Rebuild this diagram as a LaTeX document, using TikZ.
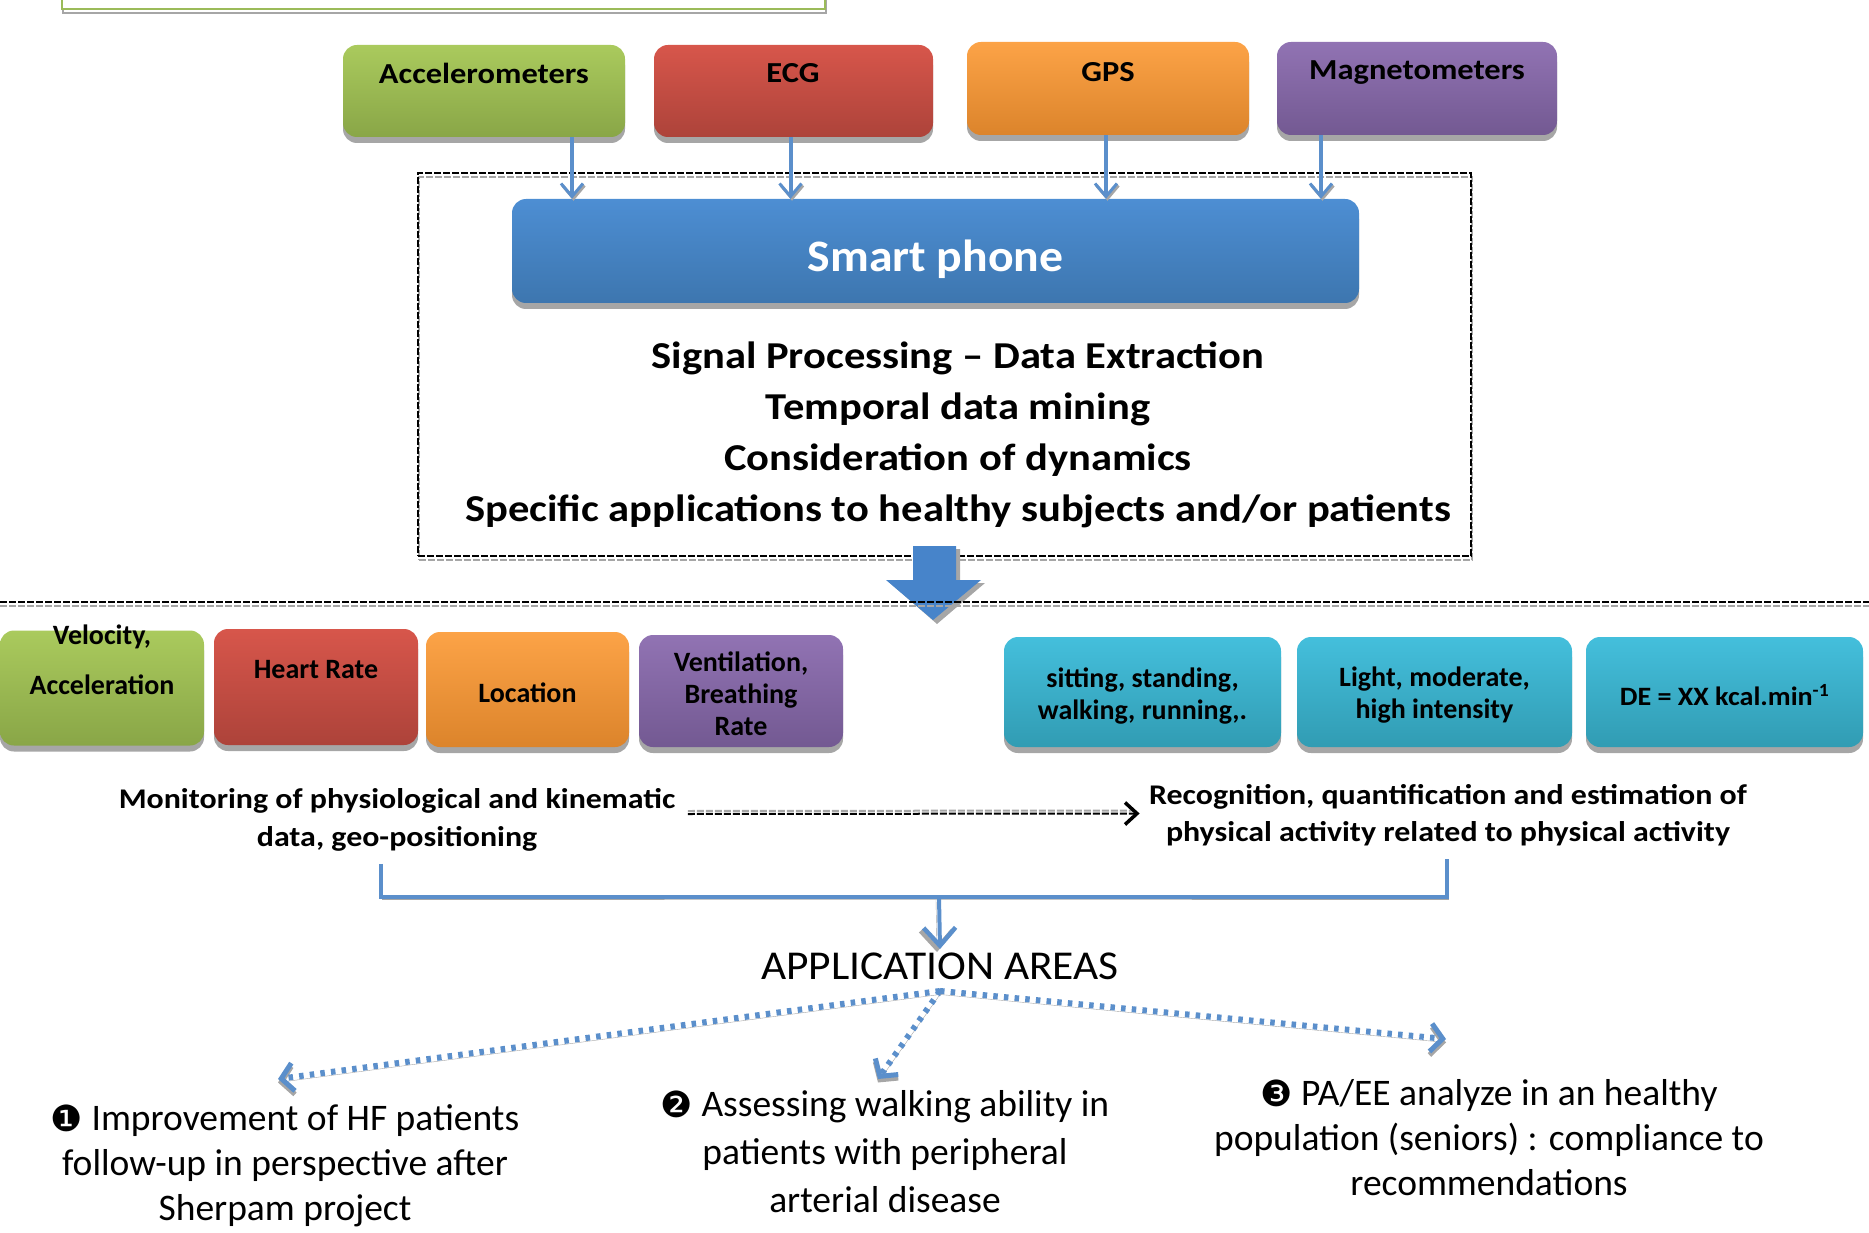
\documentclass[tikz,border=0pt]{standalone}
\usepackage{fontspec}
\setmainfont{Carlito}
\newfontfamily\wide[FakeStretch=1.12]{Carlito}
\newfontfamily\wideb[FakeStretch=1.06]{Carlito}
\newfontfamily\symfont{DejaVu Sans}
\usetikzlibrary{arrows.meta,shadows,calc}
\definecolor{gtop}{HTML}{AACA5D}\definecolor{gbot}{HTML}{89A647}
\definecolor{rtop}{HTML}{D7564B}\definecolor{rbot}{HTML}{AD433A}
\definecolor{otop}{HTML}{FCA347}\definecolor{obot}{HTML}{DC842B}
\definecolor{ptop}{HTML}{9173B3}\definecolor{pbot}{HTML}{735992}
\definecolor{btop}{HTML}{4D8ED3}\definecolor{bbot}{HTML}{3D76AF}
\definecolor{ctop}{HTML}{44BFDC}\definecolor{cbot}{HTML}{319CB3}
\definecolor{shg}{HTML}{A6A6A6}
\definecolor{lineblue}{HTML}{5B8FCB}
\definecolor{bigblue}{HTML}{4784CA}
\definecolor{topgreen}{HTML}{9BBB59}
\newcommand{\circnum}[1]{\raisebox{-0.5pt}{\symfont\fontsize{36}{36}\selectfont #1}}
\begin{document}
\begin{tikzpicture}[x=1pt,y=-1pt,
  box/.style={rounded corners=14pt, inner sep=0pt,
    drop shadow={shadow xshift=0pt,shadow yshift=-6pt,fill=shg,opacity=1}},
  sens/.style={font=\wide\bfseries\fontsize{29}{34}\selectfont},
  lab/.style={font=\bfseries\fontsize{28}{32}\selectfont, align=center},
  big/.style={font=\wide\bfseries\fontsize{38}{51}\selectfont, align=center},
  item/.style={font=\fontsize{37.5}{45}\selectfont, align=center},
  sh/.style={preaction={draw=shg,transform canvas={xshift=1.5pt,yshift=-2pt}}},
  bline/.style={draw=lineblue, line width=4pt, sh},
  barrow/.style={bline, -{Straight Barb[length=13pt,width=22pt,line width=3pt]}},
  bigbarrow/.style={draw=lineblue, line width=4pt,
    preaction={draw=shg,transform canvas={xshift=-3pt,yshift=-3pt}},
    -{Straight Barb[length=18pt,width=32pt,line width=4.5pt]}},
  dotar/.style={draw=lineblue, line width=6pt, dash pattern=on 4.5pt off 6.2pt,
    preaction={draw=shg,transform canvas={xshift=0pt,yshift=-3.5pt}},
    -{Straight Barb[length=12pt,width=28pt,line width=5pt]}},
  dsh/.style={dash pattern=on 7pt off 2pt, line width=1.3pt}
]
\useasboundingbox (0,0) rectangle (1869,1233);
% top partial box
\draw[shg, line width=2pt] (63,-5) -- (63,13) -- (826,13) -- (826,-5);
\draw[topgreen, line width=2.5pt, fill=white] (62,-20) rectangle (825,9);

% sensor boxes
\node[box, top color=gtop, bottom color=gbot, minimum width=282pt, minimum height=92pt] (acc) at (484,91) {};
\node[box, top color=rtop, bottom color=rbot, minimum width=279pt, minimum height=92pt] (ecg) at (793.5,91) {};
\node[box, top color=otop, bottom color=obot, minimum width=282pt, minimum height=93pt] (gps) at (1108,88.5) {};
\node[box, top color=ptop, bottom color=pbot, minimum width=280pt, minimum height=93pt] (mag) at (1417,88.5) {};
\node[sens] (accT) at (484,73) {Accelerometers};
\node[sens] (ecgT) at (793,73) {ECG};
\node[sens] (gpsT) at (1108,72) {GPS};
\node[sens] (magT) at (1417,73) {Magnetometers};

% dashed frame
\node[draw=shg, dsh, minimum width=1053pt, minimum height=383pt, inner sep=0pt] (frameS) at (945.5,368.5) {};
\node[draw=black, dsh, minimum width=1053pt, minimum height=383pt, inner sep=0pt] (frame) at (944.5,364.5) {};

% smart phone
\node[box, top color=btop, bottom color=bbot, minimum width=847pt, minimum height=104pt] (phone) at (935.5,251) {};
\node[font=\wideb\bfseries\fontsize{45}{50}\selectfont, text=white] (phoneT) at (935.5,259) {Smart phone};

% arrows sensors -> phone
\draw[barrow] ([xshift=88pt]acc.south) -- ([xshift=88pt]acc.south |- phone.north);
\draw[barrow] ([xshift=-3pt]ecg.south) -- ([xshift=-3pt]ecg.south |- phone.north);
\draw[barrow] ([xshift=-2pt]gps.south) -- ([xshift=-2pt]gps.south |- phone.north);
\draw[barrow] ([xshift=-96pt]mag.south) -- ([xshift=-96pt]mag.south |- phone.north);

\node[big] (proc) at (958,434.5) {Signal Processing – Data Extraction\\ Temporal data mining\\ Consideration of dynamics\\ Specific applications to healthy subjects and/or patients};

% big arrow
\fill[shg] (917,549) -- (960,549) -- (960,583) -- (985,583) -- (937,624) -- (890,583) -- (917,583) -- cycle;
\fill[bigblue] (913,546) -- (956,546) -- (956,580) -- (981,580) -- (933,620) -- (886,580) -- (913,580) -- cycle;

% long dashed line
\coordinate (dl1) at (0,602);
\coordinate (dl2) at (1869,602);
\draw[shg, dsh] ([yshift=-4pt]dl1) -- ([yshift=-4pt]dl2);
\draw[black, dsh] (dl1) -- (dl2);

% result boxes
\node[box, top color=gtop, bottom color=gbot, minimum width=204pt, minimum height=115pt] (vel) at (102,688) {};
\node[box, top color=rtop, bottom color=rbot, minimum width=204pt, minimum height=116pt] (hr) at (316,687) {};
\node[box, top color=otop, bottom color=obot, minimum width=203pt, minimum height=115pt] (loc) at (527.5,689.5) {};
\node[box, top color=ptop, bottom color=pbot, minimum width=204pt, minimum height=112pt] (vent) at (741,691) {};
\node[box, top color=ctop, bottom color=cbot, minimum width=277pt, minimum height=110pt] (sit) at (1142.5,692) {};
\node[box, top color=ctop, bottom color=cbot, minimum width=275pt, minimum height=110pt] (light) at (1434.5,692) {};
\node[box, top color=ctop, bottom color=cbot, minimum width=277pt, minimum height=110pt] (de) at (1724.5,692) {};
\node[lab, font=\bfseries\fontsize{28}{50}\selectfont] (velT) at (102,660) {Velocity,\\ Acceleration};
\node[lab] (hrT) at (316,670) {Heart Rate};
\node[lab] (locT) at (527.5,693) {Location};
\node[lab] (ventT) at (741,694) {Ventilation,\\ Breathing\\ Rate};
\node[lab] (sitT) at (1142.5,696) {sitting, standing,\\ walking, running,.};
\node[lab] (lightT) at (1434.5,695) {Light, moderate,\\ high intensity};
\node[lab, font=\wideb\bfseries\fontsize{26.5}{32}\selectfont] (deT) at (1724.5,695) {DE = XX kcal.min\textsuperscript{-1}};

% monitoring / recognition
\node[font=\wide\bfseries\fontsize{28.5}{38}\selectfont, align=center] (mon) at (397,820) {Monitoring of physiological and kinematic\\ data, geo-positioning};
\node[font=\wide\bfseries\fontsize{28.5}{37}\selectfont, align=center] (rec) at (1448,815.5) {Recognition, quantification and estimation of\\ physical activity related to physical activity};
\draw[shg, dsh, line width=2pt] ($(mon.east)+(9,-9)$) -- ($(rec.west)+(-14,-5)$);
\draw[black, dsh, line width=2pt, -{Straight Barb[length=12pt,width=22pt,line width=3.5pt]}] ($(mon.east)+(9,-6)$) -- ($(rec.west)+(-6,-2)$);

% bracket
\coordinate (jn) at (939,897);
\draw[bline] ([xshift=-16pt,yshift=-9pt]mon.south) |- (jn) -| ([xshift=-1pt,yshift=-9pt]rec.south);
\node[font=\wideb\fontsize{41}{48}\selectfont] (app) at (940,966) {APPLICATION AREAS};
\draw[bigbarrow] (jn) -- (app.north);

% items
\node[item] (it1) at (285,1166) {\circnum{❶} Improvement of HF patients\\ follow-up in perspective after\\ Sherpam project};
\node[item, font=\fontsize{37.5}{48}\selectfont] (it2) at (885,1152) {\circnum{❷} Assessing walking ability in\\ patients with peripheral\\ arterial disease};
\node[item] (it3) at (1489,1138) {\circnum{❸} PA/EE analyze in an healthy\\ population (seniors) : compliance to\\ recommendations};

\coordinate (e1) at (278,1079);
\coordinate (e2) at (878,1079);
\coordinate (e3) at (1446,1039);
\draw[dotar] ([yshift=-8pt]app.south) -- (e1);
\draw[dotar] ([yshift=-8pt]app.south) -- (e2);
\draw[dotar] ([yshift=-8pt]app.south) -- (e3);
\end{tikzpicture}
\end{document}
